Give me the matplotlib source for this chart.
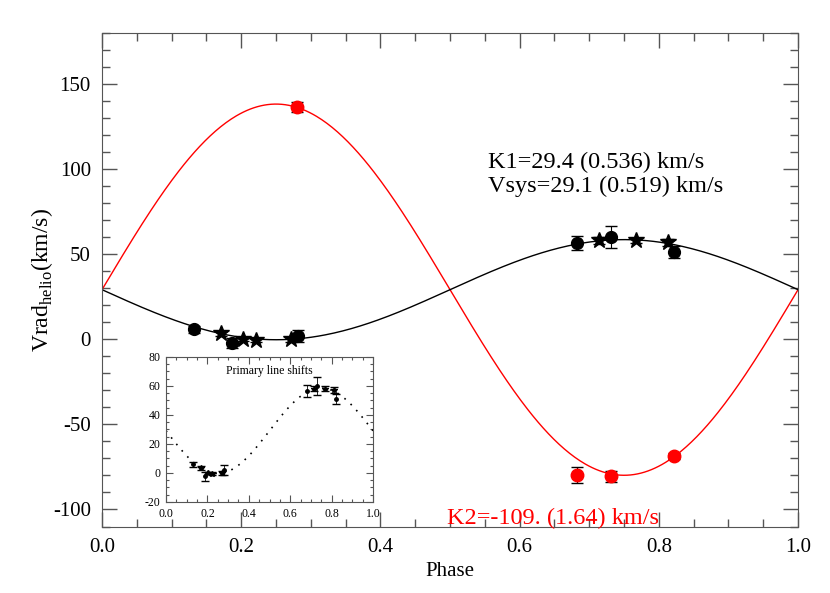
import numpy as np
import matplotlib
matplotlib.use("Agg")
import matplotlib.pyplot as plt
from matplotlib.ticker import MultipleLocator

plt.rcParams["font.family"] = ["Liberation Serif", "DejaVu Serif"]
plt.rcParams["mathtext.fontset"] = "custom"
plt.rcParams["mathtext.rm"] = "Liberation Serif"
plt.rcParams["axes.unicode_minus"] = False

# fit parameters (km/s)
K1 = 29.4
K2 = -109.0
VSYS = 29.1

# primary, circles
circ_phase = [0.132, 0.187, 0.282, 0.682, 0.731, 0.822]
circ_v = [5.9, -2.3, 1.8, 56.5, 60.0, 51.2]
circ_err = [2.0, 3.0, 3.5, 4.1, 6.5, 3.5]

# primary, stars
star_phase = [0.171, 0.203, 0.221, 0.272, 0.714, 0.767, 0.813]
star_v = [3.5, 0.0, -0.5, 0.0, 58.2, 58.2, 57.0]
star_err = [1.5, 1.0, 1.0, 1.5, 2.0, 1.5, 2.0]

# secondary, red
sec_phase = [0.280, 0.682, 0.731, 0.822]
sec_v = [136.5, -80.0, -80.6, -68.8]
sec_err = [3.0, 4.7, 3.5, 1.8]

ph = np.linspace(0, 1, 400)
curve1 = VSYS - K1 * np.sin(2 * np.pi * ph)
curve2 = VSYS - K2 * np.sin(2 * np.pi * ph)

AX_COL = "#555555"

fig = plt.figure(figsize=(8.3, 5.93), dpi=100)
ax = fig.add_axes([0.1229, 0.1121, 0.8386, 0.8327])

ax.plot(ph, curve2, color="red", lw=1.0)
ax.plot(ph, curve1, color="black", lw=1.0)
ax.errorbar(sec_phase, sec_v, yerr=sec_err, fmt="o", color="red", ms=9,
            ecolor="black", elinewidth=0.8, capsize=4)
ax.errorbar(circ_phase, circ_v, yerr=circ_err, fmt="o", color="black", ms=8.5,
            ecolor="black", elinewidth=0.8, capsize=4)
ax.errorbar(star_phase, star_v, yerr=star_err, fmt="*", color="black", ms=12,
            ecolor="black", elinewidth=0.8, capsize=4)

ax.set_xlim(0, 1)
ax.set_ylim(-110, 180)
ax.xaxis.set_major_locator(MultipleLocator(0.2))
ax.xaxis.set_minor_locator(MultipleLocator(0.05))
ax.yaxis.set_major_locator(MultipleLocator(50))
ax.yaxis.set_minor_locator(MultipleLocator(10))
ax.tick_params(which="both", direction="in", top=True, right=True,
               color=AX_COL, labelsize=15, pad=8)
ax.tick_params(which="major", length=11, width=1)
ax.tick_params(which="minor", length=6, width=1)
for s in ax.spines.values():
    s.set_color(AX_COL)
ax.set_xlabel("Phase", fontsize=15, labelpad=4)
ax.set_ylabel(r"Vrad$_{\rm helio}$(km/s)", fontsize=17)
ax.yaxis.set_label_coords(-0.067, 0.5)

ax.text(0.555, 0.737, "K1=29.4 (0.536) km/s", transform=ax.transAxes,
        fontsize=17.5, va="center")
ax.text(0.555, 0.689, "Vsys=29.1 (0.519) km/s", transform=ax.transAxes,
        fontsize=17.5, va="center")
ax.text(0.496, 0.016, "K2=-109. (1.64) km/s", transform=ax.transAxes,
        fontsize=17.5, va="center", color="red")

# inset
ins = fig.add_axes([0.2, 0.1535, 0.2494, 0.2445])
ins.plot(ph, curve1, color="black", lw=1.2, ls=(0, (1, 4)))
ins.errorbar(circ_phase, circ_v, yerr=circ_err, fmt="o", color="black", ms=2.5,
             elinewidth=0.6, capsize=3)
ins.errorbar(star_phase, star_v, yerr=star_err, fmt="*", color="black", ms=4,
             elinewidth=0.6, capsize=3)
ins.set_xlim(0, 1)
ins.set_ylim(-20, 80)
ins.xaxis.set_major_locator(MultipleLocator(0.2))
ins.xaxis.set_minor_locator(MultipleLocator(0.05))
ins.yaxis.set_major_locator(MultipleLocator(20))
ins.yaxis.set_minor_locator(MultipleLocator(5))
ins.tick_params(which="both", direction="in", top=True, right=True,
                color=AX_COL, labelsize=8.5, pad=4)
ins.tick_params(which="major", length=5, width=0.8)
ins.tick_params(which="minor", length=2.5, width=0.8)
for s in ins.spines.values():
    s.set_color(AX_COL)
ins.text(0.5, 0.9, "Primary line shifts", transform=ins.transAxes,
         fontsize=8.5, ha="center", va="center")

fig.savefig("out.png", dpi=100)
